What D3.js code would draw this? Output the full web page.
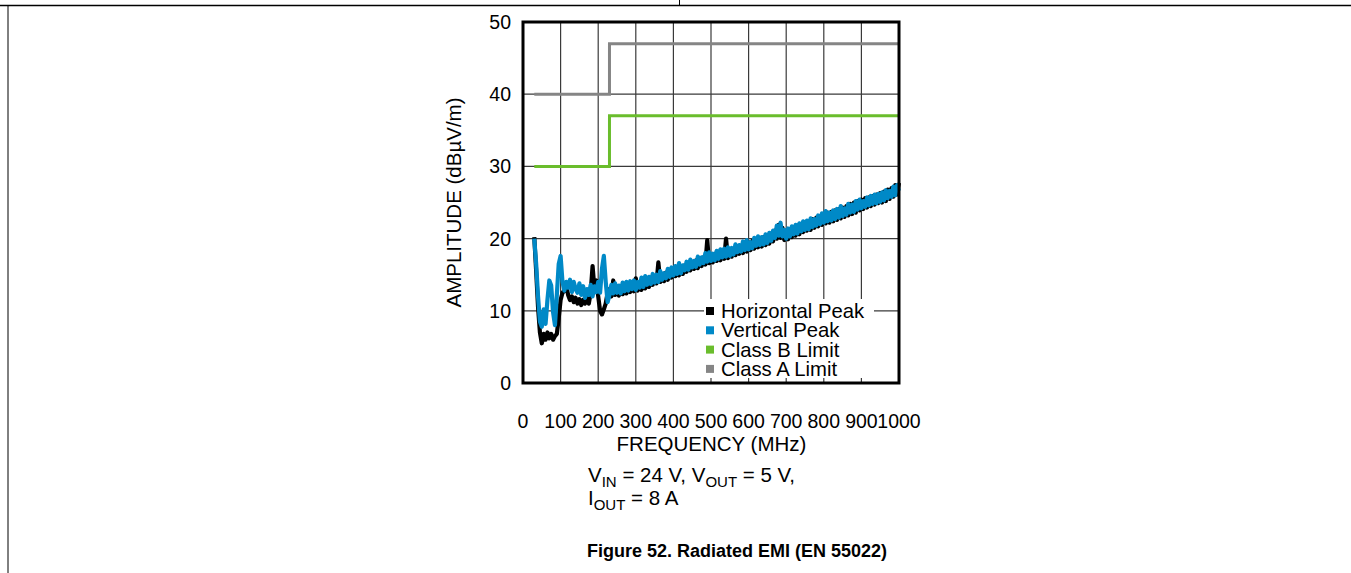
<!DOCTYPE html>
<html><head><meta charset="utf-8">
<script src="https://cdn.jsdelivr.net/npm/d3@7"></script>
<style>
html,body{margin:0;padding:0;background:#fff;}
svg{display:block;font-family:"Liberation Sans",Arial,sans-serif;}
</style></head>
<body><svg id="c" width="1351" height="573"></svg>
<script>
// ---- data ----
const freqStart = 30, freqStep = 5; // analyzer sweep grid (MHz)
const horizontalPeak = [
 20.2,15.5,10.5,7.0,5.5,6.8,6.0,7.0,6.2,6.8,
 6.0,6.5,6.8,9.0,11.5,12.5,12.8,13.5,12.2,11.5,
 12.0,11.2,11.8,11.0,11.6,10.8,11.5,11.0,12.2,11.0,
 12.5,16.2,13.0,14.2,12.0,10.0,9.5,10.2,11.0,12.5,
 13.0,12.0,14.2,12.2,13.3,12.1,13.2,12.3,13.5,12.4,
 13.6,12.6,13.7,12.7,14.5,12.8,13.9,12.9,14.1,13.1,
 14.4,13.3,14.5,13.6,14.7,13.8,16.7,14.0,15.1,14.1,
 15.3,14.3,15.5,14.6,15.7,14.8,15.9,14.9,16.1,15.1,
 16.3,15.4,16.5,15.6,16.7,15.8,17.0,15.9,17.2,16.2,
 17.4,16.4,19.8,16.6,17.7,16.7,17.9,16.9,18.1,17.0,
 18.2,17.2,20.0,17.3,18.4,17.5,18.6,17.7,18.8,17.9,
 19.0,18.0,19.3,18.2,19.5,18.4,19.7,18.6,19.9,18.8,
 20.1,18.9,20.2,19.1,20.4,19.3,20.7,19.6,21.1,20.0,
 21.9,20.1,21.5,19.8,21.1,19.9,21.3,20.2,21.6,20.4,
 21.8,20.6,22.0,20.9,22.2,21.1,22.4,21.2,22.7,21.5,
 22.9,21.7,23.1,21.9,23.4,22.1,23.6,22.2,23.7,22.4,
 23.9,22.6,24.1,22.8,24.3,23.0,24.5,23.2,24.8,23.4,
 25.0,23.6,25.2,23.9,25.4,24.1,25.6,24.3,25.7,24.5,
 25.9,24.7,26.1,24.9,26.3,25.0,26.5,25.2,26.8,25.5,
 27.0,25.8,27.4,26.1,27.7
];
const verticalPeak = [
 20.0,16.5,12.0,8.5,7.8,10.2,8.2,11.5,14.2,13.5,
 9.8,8.0,12.2,16.5,17.6,14.0,12.8,14.0,13.2,14.3,
 12.6,14.0,13.0,12.5,13.8,12.2,13.4,11.8,13.0,12.2,
 13.6,12.0,13.4,12.6,14.0,12.5,15.8,17.6,14.0,11.2,
 12.2,13.6,12.4,13.8,12.5,13.5,12.4,13.9,12.7,14.0,
 12.8,14.1,13.0,14.2,12.9,14.0,13.2,14.6,13.3,14.8,
 13.6,14.7,13.7,15.1,13.9,15.0,14.0,15.5,14.3,15.2,
 14.5,15.8,14.7,16.0,14.9,16.2,15.1,16.6,15.2,16.3,
 15.6,16.8,15.7,17.1,16.0,16.9,16.1,17.5,16.4,17.4,
 16.6,18.0,16.8,18.1,16.9,17.9,17.0,18.3,17.2,18.5,
 17.4,18.6,17.5,18.8,17.6,18.7,17.8,19.2,18.1,19.1,
 18.2,19.6,18.4,19.8,18.5,19.5,18.7,20.1,19.0,20.3,
 19.1,20.2,19.2,20.6,19.4,20.8,19.7,21.1,20.1,21.8,
 20.4,22.2,20.3,21.2,20.0,21.4,20.3,21.7,20.6,21.9,
 20.7,22.1,21.0,22.4,21.2,22.5,21.3,22.8,21.6,22.7,
 21.8,23.2,22.0,23.5,22.2,23.8,22.4,23.6,22.5,23.9,
 22.7,24.1,22.9,24.5,23.1,24.2,23.3,24.8,23.6,24.7,
 23.7,25.2,24.0,25.4,24.2,25.2,24.4,25.7,24.6,25.9,
 24.8,26.1,24.9,26.2,25.1,26.4,25.3,26.7,25.6,26.6,
 25.8,27.2,26.0,27.4,26.6
];
const classBFreq = [30, 230, 230, 1000];
const classBLimit = [30, 30, 37, 37];
const classAFreq = [30, 230, 230, 1000];
const classALimit = [40, 40, 47, 47];
const xTicks = [0,100,200,300,400,500,600,700,800,900,1000];
const yTicks = [0,10,20,30,40,50];
const legendLabels = ["Horizontal Peak","Vertical Peak","Class B Limit","Class A Limit"];
const legendColors = ["#000000","#0089c7","#6abd2c","#858585"];

// ---- chart ----
const svg = d3.select("#c");
const L = 523, R = 899, T = 22, B = 383;
const x = d3.scaleLinear().domain([0,1000]).range([L,R]);
const y = d3.scaleLinear().domain([0,50]).range([B,T]);

// page frame
svg.append("line").attr("x1",0).attr("x2",1351).attr("y1",5.5).attr("y2",5.5).attr("stroke","#000").attr("stroke-width",1.5);
svg.append("line").attr("x1",8).attr("x2",8).attr("y1",5).attr("y2",573).attr("stroke","#000").attr("stroke-width",1);
svg.append("line").attr("x1",679.5).attr("x2",679.5).attr("y1",0).attr("y2",6).attr("stroke","#000").attr("stroke-width",1);

// grid
const grid = svg.append("g");
grid.selectAll("line.v").data(xTicks.slice(1,-1)).join("line")
  .attr("x1",d=>x(d)).attr("x2",d=>x(d)).attr("y1",T).attr("y2",B)
  .attr("stroke","#3a3a3a").attr("stroke-width",1.2);
grid.selectAll("line.h").data(yTicks.slice(1,-1)).join("line")
  .attr("x1",L).attr("x2",R).attr("y1",d=>y(d)).attr("y2",d=>y(d))
  .attr("stroke","#3a3a3a").attr("stroke-width",1.2);

const fx = (d,i) => x(freqStart + i*freqStep);
const line = d3.line().x(fx).y(d=>y(d));
const plot = svg.append("g");
plot.append("path").datum(horizontalPeak).attr("d",line).attr("fill","none")
  .attr("stroke",legendColors[0]).attr("stroke-width",4.2).attr("stroke-linejoin","round");
plot.append("path").datum(verticalPeak).attr("d",line).attr("fill","none")
  .attr("stroke",legendColors[1]).attr("stroke-width",4.2).attr("stroke-linejoin","round");

const stepLine = d3.line().x(d=>x(d[0])).y(d=>y(d[1]));
plot.append("path").datum(classBFreq.map((f,i)=>[f,classBLimit[i]])).attr("d",stepLine)
  .attr("fill","none").attr("stroke",legendColors[2]).attr("stroke-width",3);
plot.append("path").datum(classAFreq.map((f,i)=>[f,classALimit[i]])).attr("d",stepLine)
  .attr("fill","none").attr("stroke",legendColors[3]).attr("stroke-width",3);

// legend
const lg = svg.append("g");
lg.append("rect").attr("x",704).attr("y",299).attr("width",170).attr("height",79).attr("fill","#fff");
legendLabels.forEach((t,i)=>{
  const cy = 311 + i*19.3;
  lg.append("rect").attr("x",706).attr("y",cy-4).attr("width",8).attr("height",8).attr("fill",legendColors[i]);
  lg.append("text").attr("x",721).attr("y",cy+7).attr("font-size",20.3).text(t);
});

// frame
svg.append("rect").attr("x",L).attr("y",T).attr("width",R-L).attr("height",B-T)
  .attr("fill","none").attr("stroke","#000").attr("stroke-width",3);

// axes labels
svg.selectAll("text.yt").data(yTicks).join("text")
  .attr("x",511).attr("y",d=>y(d)+7).attr("text-anchor","end").attr("font-size",19.5).text(d=>d);
svg.selectAll("text.xt").data(xTicks).join("text")
  .attr("x",d=>x(d)).attr("y",428).attr("text-anchor","middle").attr("font-size",19.5).text(d=>d);
svg.append("text").attr("x",(L+R)/2+0.5).attr("y",451).attr("text-anchor","middle").attr("font-size",20.5).text("FREQUENCY (MHz)");
svg.append("text").attr("transform",`translate(461,${(T+B)/2}) rotate(-90)`).attr("text-anchor","middle").attr("font-size",20.5).text("AMPLITUDE (dBµV/m)");

// conditions
const c1 = svg.append("text").attr("x",588).attr("y",482).attr("font-size",20.5);
c1.append("tspan").text("V");
c1.append("tspan").attr("font-size",15).attr("dy",5).text("IN");
c1.append("tspan").attr("dy",-5).text(" = 24 V, V");
c1.append("tspan").attr("font-size",15).attr("dy",5).text("OUT");
c1.append("tspan").attr("dy",-5).text(" = 5 V,");
const c2 = svg.append("text").attr("x",588).attr("y",505).attr("font-size",20.5);
c2.append("tspan").text("I");
c2.append("tspan").attr("font-size",15).attr("dy",5).text("OUT");
c2.append("tspan").attr("dy",-5).text(" = 8 A");

svg.append("text").attr("x",737).attr("y",557).attr("text-anchor","middle")
  .attr("font-size",18).attr("font-weight","bold").text("Figure 52. Radiated EMI (EN 55022)");
</script></body></html>
